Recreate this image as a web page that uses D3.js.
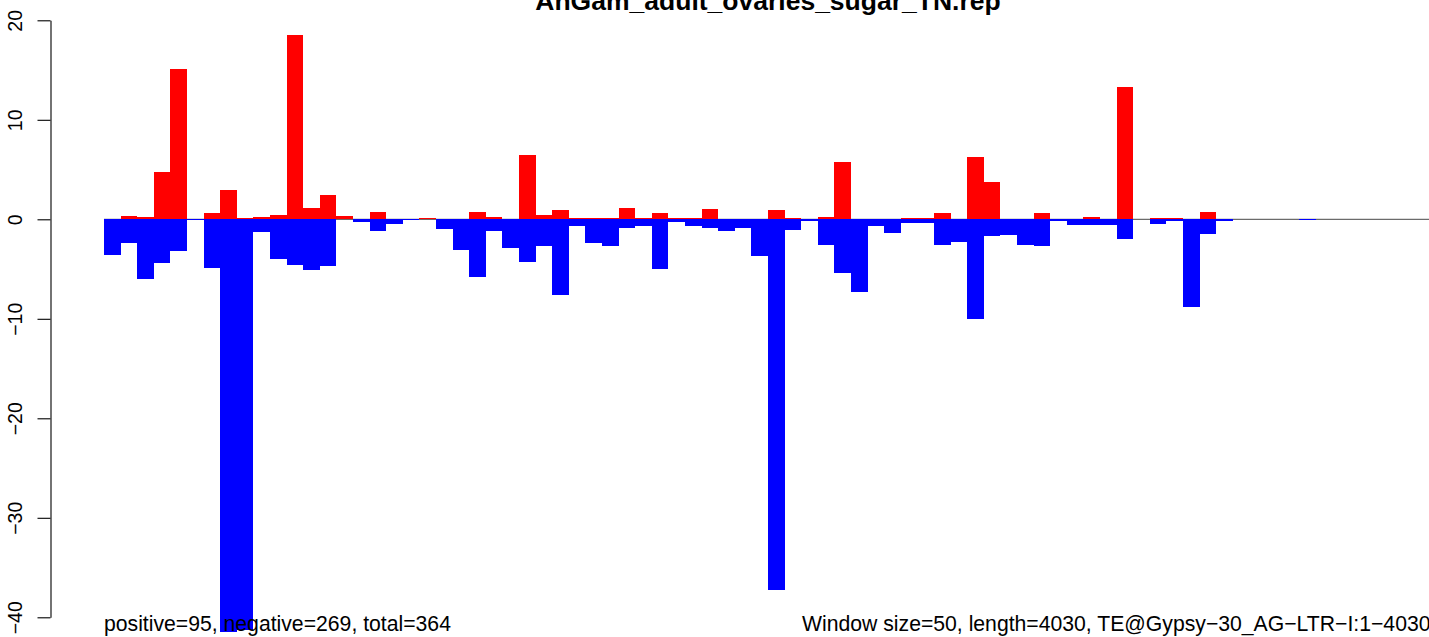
<!DOCTYPE html>
<html>
<head>
<meta charset="utf-8">
<script src="https://cdn.jsdelivr.net/npm/d3@7"></script>
<style>
  html, body { margin: 0; padding: 0; background: #fff; overflow: hidden; }
  svg { display: block; font-family: "Liberation Sans", Arial, Helvetica, sans-serif; }
</style>
</head>
<body>
<svg id="chart" width="1429" height="637"></svg>
<script>
// ---- data ----
const title = "AnGam_adult_ovaries_sugar_TN.rep";
const windowIndex = d3.range(81); // 81 windows of 50 nt over 4030 nt
const positiveValues = [
  0, 0.3, 0.2, 4.8, 15.1, 0, 0.65, 2.9, 0.1, 0.2,
  0.4, 18.5, 1.1, 2.4, 0.3, 0, 0.7, 0, 0, 0.1,
  0, 0, 0.7, 0.2, 0.05, 6.5, 0.4, 0.9, 0.1, 0.1,
  0.1, 1.1, 0.1, 0.6, 0.1, 0.1, 1.0, 0, 0, 0.05,
  0.9, 0.1, 0, 0.2, 5.8, 0, 0, 0.05, 0.1, 0.1,
  0.6, 0, 6.3, 3.7, 0, 0, 0.6, 0, 0, 0.2,
  0, 13.3, 0, 0.1, 0.1, 0, 0.7, 0, 0, 0,
  0.05, 0, 0, 0, 0, 0, 0, 0, 0, 0, 0
];
const negativeValues = [
  -3.6, -2.4, -6.0, -4.4, -3.2, -0.1, -4.9, -41.5, -41.3, -1.3,
  -4.0, -4.6, -5.1, -4.7, 0, -0.3, -1.2, -0.5, -0.1, 0,
  -1.0, -3.1, -5.8, -1.2, -2.9, -4.3, -2.7, -7.6, -0.7, -2.4,
  -2.7, -0.9, -0.7, -5.0, -0.3, -0.7, -0.9, -1.2, -0.9, -3.7,
  -37.3, -1.1, -0.2, -2.6, -5.4, -7.3, -0.7, -1.4, -0.4, -0.4,
  -2.6, -2.3, -10.0, -1.7, -1.6, -2.6, -2.7, -0.2, -0.6, -0.6,
  -0.6, -2.0, 0, -0.5, -0.15, -8.8, -1.5, -0.15, 0, 0,
  0, 0, -0.05, 0, 0, 0, 0, 0, 0, 0, 0
];
const yTicks = [-40, -30, -20, -10, 0, 10, 20];
const leftNote = "positive=95, negative=269, total=364";
const rightNote = "Window size=50, length=4030, TE@Gypsy\u221230_AG\u2212LTR\u2212I:1\u22124030";

// ---- layout ----
const svg = d3.select("#chart");
const n = windowIndex.length;
const pad = n * 0.04;
const barW = 16.6;
const x = d3.scaleLinear()
  .domain([-pad, n + pad])
  .range([50.2, 50.2 + (n + 2 * pad) * barW]);
const y = d3.scaleLinear().domain([-40, 20]).range([617.3, 20.3]);

// baseline
svg.append("line")
  .attr("x1", x(0)).attr("x2", x(n))
  .attr("y1", y(0)).attr("y2", y(0))
  .attr("stroke", "#6b6b6b").attr("stroke-width", 1.3);

// bars
svg.append("g").selectAll("rect.pos")
  .data(windowIndex)
  .join("rect")
  .attr("x", i => x(i))
  .attr("width", i => x(i + 1) - x(i))
  .attr("y", i => y(positiveValues[i]))
  .attr("height", i => y(0) - y(positiveValues[i]))
  .attr("fill", "#ff0000")
  .attr("shape-rendering", "crispEdges");

svg.append("g").selectAll("rect.neg")
  .data(windowIndex)
  .join("rect")
  .attr("x", i => x(i))
  .attr("width", i => x(i + 1) - x(i))
  .attr("y", y(0))
  .attr("height", i => y(negativeValues[i]) - y(0))
  .attr("fill", "#0000ff")
  .attr("shape-rendering", "crispEdges");

// y axis
const yAxis = d3.axisLeft(y)
  .tickValues(yTicks)
  .tickSize(13)
  .tickSizeOuter(0)
  .tickFormat(d => String(d).replace("-", "\u2212"));
const gAxis = svg.append("g")
  .attr("transform", "translate(50.5,0)")
  .call(yAxis);
gAxis.select(".domain").attr("stroke", "#000").attr("stroke-width", 1.1);
gAxis.selectAll(".tick line").attr("stroke", "#000").attr("stroke-width", 1.1);
gAxis.selectAll(".tick text")
  .attr("x", null).attr("dy", null)
  .attr("transform", "translate(-28.5,0) rotate(-90)")
  .attr("text-anchor", "middle")
  .attr("fill", "#000")
  .style("font-size", "19.5px")
  .style("font-family", "'Liberation Sans', Arial, sans-serif");

// title
svg.append("text")
  .attr("x", 768).attr("y", 10)
  .attr("text-anchor", "middle")
  .style("font-weight", "bold")
  .style("font-size", "26.5px")
  .text(title);

// bottom notes
svg.append("text")
  .attr("x", 104).attr("y", 631)
  .style("font-size", "21.2px")
  .text(leftNote);
svg.append("text")
  .attr("x", 802).attr("y", 631)
  .style("font-size", "21.2px")
  .text(rightNote);
</script>
</body>
</html>
